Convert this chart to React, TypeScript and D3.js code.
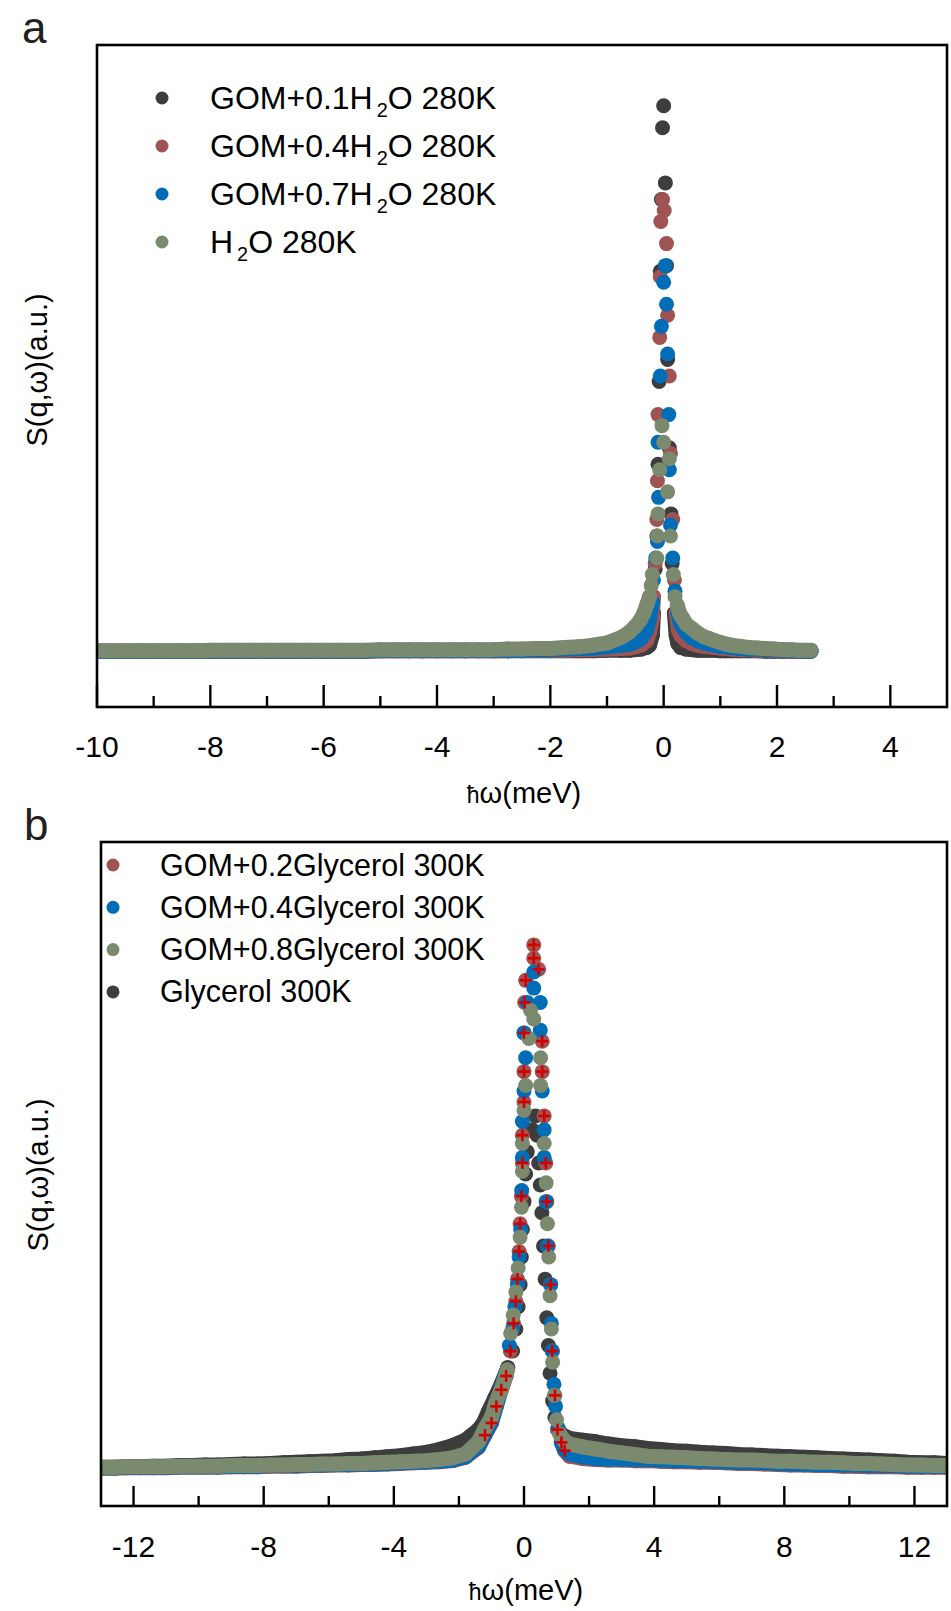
import React from 'react';
import * as d3 from 'd3';

type Pt = [number, number];

const FONT = '"Liberation Sans", Arial, Helvetica, sans-serif';

const COLORS = {
  black: '#3d3d3d',
  red: '#a05353',
  blue: '#006db6',
  green: '#7b8a6e',
  errRed: '#d40000',
};

// ---------------- panel a : GOM + H2O, 280K ----------------
const aMajorTicks = [-10, -8, -6, -4, -2, 0, 2, 4];
const aMinorTicks = [-9, -7, -5, -3, -1, 1, 3];
const aLegend = [
  ['GOM+0.1H', '2', 'O 280K'],
  ['GOM+0.4H', '2', 'O 280K'],
  ['GOM+0.7H', '2', 'O 280K'],
  ['H', '2', 'O 280K'],
];

const aWingLeftX = [
  -10, -9.75, -9.5, -9.25, -9, -8.75, -8.5, -8.25, -8, -7.75, -7.5, -7.25, -7, -6.75, -6.5, -6.25,
  -6, -5.75, -5.5, -5.25, -5, -4.75, -4.5, -4.25, -4, -3.75, -3.5, -3.25, -3, -2.75, -2.5, -2.25,
  -2, -1.75, -1.5, -1.25, -1, -0.75,
];
const aWingRightX = [0.7, 0.8, 0.9, 1.0, 1.1, 1.2, 1.35, 1.5, 1.65, 1.8, 1.95, 2.1, 2.25, 2.4, 2.5, 2.6];

const aBlackLeft = [
  0.001, 0.001, 0.001, 0.001, 0.001, 0.001, 0.001, 0.001, 0.001, 0.001, 0.001, 0.001, 0.001, 0.001, 0.001, 0.001,
  0.001, 0.001, 0.001, 0.001, 0.002, 0.002, 0.002, 0.002, 0.002, 0.002, 0.002, 0.002, 0.002, 0.002, 0.002, 0.002,
  0.002, 0.002, 0.002, 0.002, 0.003, 0.003,
];
const aBlackPeak: Pt[] = [
  [-0.6, 0.003], [-0.5, 0.004], [-0.4, 0.005], [-0.3, 0.008], [-0.25, 0.012], [-0.2, 0.03], [-0.18, 0.07],
  [-0.15, 0.15], [-0.12, 0.21], [-0.1, 0.34], [-0.08, 0.49], [-0.06, 0.69], [-0.04, 0.82], [-0.02, 0.95],
  [0, 0.99], [0.03, 0.85], [0.05, 0.7], [0.07, 0.53], [0.1, 0.37], [0.13, 0.25], [0.15, 0.16], [0.19, 0.07],
  [0.22, 0.03], [0.25, 0.015], [0.3, 0.008], [0.4, 0.005], [0.5, 0.004], [0.6, 0.003],
];
const aBlackRight = [0.003, 0.003, 0.003, 0.002, 0.002, 0.002, 0.002, 0.002, 0.002, 0.001, 0.001, 0.001, 0.001, 0.001, 0.001, 0.001];

const aRedLeft = [
  0.001, 0.001, 0.001, 0.001, 0.001, 0.001, 0.001, 0.001, 0.002, 0.002, 0.002, 0.002, 0.002, 0.002, 0.002, 0.002,
  0.002, 0.002, 0.002, 0.002, 0.002, 0.002, 0.002, 0.002, 0.002, 0.002, 0.002, 0.002, 0.002, 0.002, 0.003, 0.003,
  0.003, 0.003, 0.004, 0.004, 0.005, 0.006,
];
const aRedPeak: Pt[] = [
  [-0.6, 0.007], [-0.5, 0.009], [-0.4, 0.012], [-0.3, 0.02], [-0.25, 0.035], [-0.2, 0.06], [-0.18, 0.1],
  [-0.15, 0.16], [-0.12, 0.24], [-0.11, 0.31], [-0.1, 0.43], [-0.07, 0.57], [-0.06, 0.68], [-0.05, 0.78],
  [-0.02, 0.82], [0.01, 0.8], [0.05, 0.74], [0.07, 0.61], [0.1, 0.5], [0.12, 0.36], [0.16, 0.24], [0.19, 0.13],
  [0.22, 0.07], [0.26, 0.04], [0.3, 0.03], [0.4, 0.02], [0.5, 0.015], [0.6, 0.012],
];
const aRedRight = [0.01, 0.009, 0.008, 0.007, 0.006, 0.005, 0.004, 0.004, 0.003, 0.003, 0.003, 0.002, 0.002, 0.002, 0.002, 0.002];

const aBlueLeft = [
  0.001, 0.001, 0.001, 0.001, 0.001, 0.001, 0.001, 0.001, 0.002, 0.002, 0.002, 0.002, 0.002, 0.002, 0.002, 0.002,
  0.002, 0.002, 0.002, 0.002, 0.003, 0.003, 0.003, 0.003, 0.003, 0.003, 0.003, 0.003, 0.003, 0.003, 0.003, 0.004,
  0.004, 0.005, 0.006, 0.007, 0.009, 0.012,
];
const aBluePeak: Pt[] = [
  [-0.6, 0.014], [-0.5, 0.018], [-0.4, 0.024], [-0.3, 0.04], [-0.25, 0.06], [-0.2, 0.09], [-0.18, 0.13],
  [-0.14, 0.17], [-0.11, 0.2], [-0.09, 0.28], [-0.1, 0.38], [-0.06, 0.5], [-0.04, 0.59], [0, 0.67],
  [0.03, 0.7], [0.05, 0.63], [0.07, 0.54], [0.09, 0.43], [0.1, 0.33], [0.12, 0.23], [0.16, 0.17], [0.2, 0.11],
  [0.25, 0.07], [0.3, 0.05], [0.4, 0.035], [0.5, 0.026], [0.6, 0.02],
];
const aBlueRight = [0.017, 0.014, 0.012, 0.01, 0.009, 0.008, 0.006, 0.005, 0.005, 0.004, 0.004, 0.003, 0.003, 0.002, 0.002, 0.002];

const aGreenLeft = [
  0.002, 0.002, 0.002, 0.002, 0.002, 0.002, 0.002, 0.002, 0.003, 0.003, 0.003, 0.003, 0.003, 0.003, 0.003, 0.003,
  0.003, 0.003, 0.003, 0.003, 0.004, 0.004, 0.004, 0.004, 0.004, 0.004, 0.004, 0.004, 0.004, 0.005, 0.005, 0.006,
  0.006, 0.008, 0.009, 0.012, 0.016, 0.026,
];
const aGreenPeak: Pt[] = [
  [-0.6, 0.036], [-0.5, 0.046], [-0.41, 0.058], [-0.35, 0.07], [-0.29, 0.087], [-0.25, 0.1], [-0.22, 0.12],
  [-0.2, 0.14], [-0.12, 0.17], [-0.11, 0.21], [-0.1, 0.25], [-0.07, 0.33], [-0.03, 0.41], [0, 0.38],
  [0.1, 0.35], [0.07, 0.29], [0.12, 0.21], [0.17, 0.14], [0.2, 0.1], [0.24, 0.085], [0.28, 0.07],
  [0.34, 0.06], [0.4, 0.05], [0.5, 0.042], [0.6, 0.034],
];
const aGreenRight = [0.028, 0.024, 0.02, 0.017, 0.014, 0.012, 0.01, 0.008, 0.007, 0.006, 0.005, 0.004, 0.004, 0.003, 0.003, 0.003];

// ---------------- panel b : GOM + glycerol, 300K ----------------
const bMajorTicks = [-12, -8, -4, 0, 4, 8, 12];
const bMinorTicks = [-10, -6, -2, 2, 6, 10];
const bLegend = [
  ['GOM+0.2Glycerol 300K'],
  ['GOM+0.4Glycerol 300K'],
  ['GOM+0.8Glycerol 300K'],
  ['Glycerol 300K'],
];

const bWingLeftX = [
  -13, -12.6, -12.2, -11.8, -11.4, -11, -10.6, -10.2, -9.8, -9.4, -9, -8.6, -8.2, -7.8, -7.4,
  -7, -6.6, -6.2, -5.8, -5.4, -5, -4.6, -4.2, -3.8, -3.4, -3, -2.6, -2.2, -1.8, -1.4,
];
const bWingRightX = [
  1.4, 1.8, 2.2, 2.6, 3, 3.4, 3.8, 4.2, 4.6, 5, 5.4, 5.8, 6.2, 6.6, 7,
  7.4, 7.8, 8.2, 8.6, 9, 9.4, 9.8, 10.2, 10.6, 11, 11.4, 11.8, 12.2, 12.6, 13,
];

const bBlackLeft = [
  0, 0, 0.001, 0.001, 0.002, 0.002, 0.003, 0.003, 0.004, 0.004, 0.005, 0.006, 0.006, 0.007, 0.008,
  0.009, 0.01, 0.011, 0.012, 0.014, 0.015, 0.017, 0.019, 0.021, 0.024, 0.027, 0.032, 0.039, 0.049, 0.068,
];
const bBlackPeak: Pt[] = [
  [-1.25, 0.08], [-1.1, 0.1], [-0.9, 0.125], [-0.7, 0.15], [-0.5, 0.18], [-0.35, 0.21], [-0.25, 0.25],
  [-0.18, 0.29], [-0.12, 0.33], [-0.08, 0.38], [-0.05, 0.43], [0, 0.48], [0.05, 0.53], [0.1, 0.57],
  [0.25, 0.61], [0.35, 0.635], [0.4, 0.6], [0.45, 0.55], [0.5, 0.51], [0.55, 0.46], [0.6, 0.4],
  [0.65, 0.34], [0.7, 0.27], [0.75, 0.22], [0.8, 0.17], [0.88, 0.12], [0.95, 0.09], [1.05, 0.07], [1.2, 0.058],
];
const bBlackRight = [
  0.052, 0.049, 0.046, 0.042, 0.039, 0.037, 0.034, 0.032, 0.03, 0.029, 0.027, 0.026, 0.025, 0.023, 0.022,
  0.021, 0.02, 0.019, 0.018, 0.017, 0.016, 0.015, 0.014, 0.013, 0.012, 0.011, 0.009, 0.008, 0.008, 0.007,
];

const bRedLeft = [
  -0.002, -0.002, -0.001, -0.001, -0.001, -0.001, 0, 0, 0, 0, 0.001, 0.001, 0.001, 0.002, 0.002,
  0.002, 0.003, 0.003, 0.004, 0.004, 0.005, 0.005, 0.006, 0.007, 0.008, 0.009, 0.01, 0.012, 0.018, 0.036,
];
const bRedPeak: Pt[] = [
  [-1.2, 0.058], [-1.0, 0.08], [-0.85, 0.11], [-0.7, 0.14], [-0.55, 0.165], [-0.42, 0.21], [-0.32, 0.26],
  [-0.25, 0.3], [-0.2, 0.34], [-0.15, 0.39], [-0.12, 0.44], [-0.08, 0.49], [-0.05, 0.55], [-0.05, 0.6],
  [0, 0.66], [0, 0.715], [0, 0.785], [0.02, 0.84], [0.05, 0.88], [0.3, 0.944], [0.3, 0.92], [0.45, 0.9],
  [0.56, 0.77], [0.56, 0.715], [0.62, 0.635], [0.67, 0.55], [0.7, 0.48], [0.75, 0.4], [0.82, 0.33],
  [0.87, 0.21], [0.95, 0.13], [1.03, 0.068], [1.15, 0.045], [1.25, 0.03],
];
const bRedRight = [
  0.02, 0.016, 0.014, 0.013, 0.013, 0.012, 0.012, 0.011, 0.01, 0.01, 0.009, 0.009, 0.008, 0.007, 0.007,
  0.006, 0.005, 0.004, 0.004, 0.003, 0.003, 0.002, 0.002, 0.001, 0.001, 0.001, 0, 0, 0, 0,
];

const bBlueLeft = [
  -0.001, -0.001, 0, 0, 0, 0, 0.001, 0.001, 0.001, 0.001, 0.002, 0.002, 0.002, 0.003, 0.003,
  0.003, 0.004, 0.004, 0.005, 0.005, 0.006, 0.006, 0.007, 0.008, 0.009, 0.01, 0.011, 0.013, 0.019, 0.038,
];
const bBluePeak: Pt[] = [
  [-1.2, 0.06], [-1.0, 0.082], [-0.85, 0.112], [-0.7, 0.143], [-0.55, 0.17], [-0.45, 0.22], [-0.35, 0.25],
  [-0.28, 0.29], [-0.2, 0.33], [-0.15, 0.38], [-0.1, 0.43], [-0.07, 0.5], [-0.05, 0.56], [-0.05, 0.625],
  [0, 0.68], [0.05, 0.74], [0, 0.785], [0.1, 0.84], [0.3, 0.895], [0.3, 0.866], [0.5, 0.84], [0.5, 0.79],
  [0.56, 0.68], [0.62, 0.61], [0.62, 0.56], [0.68, 0.48], [0.72, 0.4], [0.82, 0.33], [0.84, 0.26],
  [0.87, 0.21], [0.92, 0.15], [0.97, 0.11], [1.05, 0.07], [1.15, 0.045], [1.25, 0.032],
];
const bBlueRight = [
  0.024, 0.019, 0.016, 0.015, 0.015, 0.014, 0.014, 0.013, 0.012, 0.012, 0.011, 0.011, 0.01, 0.009, 0.009,
  0.008, 0.007, 0.006, 0.006, 0.005, 0.005, 0.004, 0.004, 0.003, 0.003, 0.003, 0.002, 0.002, 0.002, 0.002,
];

const bGreenLeft = [
  0, 0, 0.001, 0.001, 0.001, 0.001, 0.002, 0.002, 0.002, 0.002, 0.003, 0.003, 0.003, 0.004, 0.004,
  0.005, 0.005, 0.006, 0.006, 0.007, 0.007, 0.008, 0.009, 0.01, 0.011, 0.012, 0.014, 0.017, 0.024, 0.046,
];
const bGreenPeak: Pt[] = [
  [-1.2, 0.07], [-1.0, 0.09], [-0.87, 0.116], [-0.67, 0.145], [-0.51, 0.176], [-0.41, 0.242],
  [-0.33, 0.275], [-0.25, 0.317], [-0.18, 0.36], [-0.12, 0.416], [-0.08, 0.47], [-0.05, 0.535],
  [-0.05, 0.585], [0, 0.645], [0.05, 0.69], [0.15, 0.775], [0.2, 0.826], [0.3, 0.81], [0.51, 0.74],
  [0.51, 0.69], [0.62, 0.585], [0.68, 0.514], [0.72, 0.44], [0.76, 0.38], [0.8, 0.31], [0.84, 0.25],
  [0.88, 0.19], [0.93, 0.13], [1.0, 0.086], [1.1, 0.06], [1.25, 0.047],
];
const bGreenRight = [
  0.042, 0.037, 0.033, 0.029, 0.026, 0.023, 0.02, 0.019, 0.018, 0.017, 0.016, 0.015, 0.014, 0.013, 0.013,
  0.012, 0.011, 0.011, 0.01, 0.009, 0.009, 0.008, 0.007, 0.007, 0.006, 0.005, 0.004, 0.004, 0.003, 0.003,
];

const zipXY = (xs: number[], ys: number[]): Pt[] => xs.map((x, i) => [x, ys[i]] as Pt);

interface Series {
  color: string;
  wings: Pt[][];
  points: Pt[];
  err?: Pt[];
}

// wings + low flank points are dense enough to merge into a solid band
const makeSeries = (
  color: string, lx: number[], ly: number[], peak: Pt[], rx: number[], ry: number[],
  lowLeft: number, lowRight: number, err = false,
): Series => {
  const left = zipXY(lx, ly);
  const right = zipXY(rx, ry);
  let i = 0;
  while (i < peak.length && peak[i][1] < lowLeft) i++;
  let j = peak.length;
  while (j > i && peak[j - 1][1] < lowRight) j--;
  return {
    color,
    wings: [[...left, ...peak.slice(0, i)], [...peak.slice(j), ...right]],
    points: [...left, ...peak, ...right],
    err: err ? peak : undefined,
  };
};

interface PanelProps {
  id: string;
  letter: string;
  letterX: number;
  letterY: number;
  left: number;
  right: number;
  top: number;
  bottom: number;
  xDomain: [number, number];
  yDomain: [number, number];
  major: number[];
  minor: number[];
  majorLen: number;
  minorLen: number;
  tickLabelY: number;
  titleY: number;
  yLabelX: number;
  yLabelY: number;
  series: Series[];
  legend: string[][];
  legendColors: string[];
  legendDotX: number;
  legendTextX: number;
  legendTop: number;
  legendStep: number;
  legendSize: number;
}

const Panel: React.FC<PanelProps> = (p) => {
  const x = d3.scaleLinear().domain(p.xDomain).range([p.left, p.right]);
  const y = d3.scaleLinear().domain(p.yDomain).range([p.bottom, p.top]);
  const r = 7.5;
  const band = d3.line<Pt>().x((d) => x(d[0])).y((d) => y(d[1]));

  return (
    <g>
      <defs>
        <clipPath id={`clip-${p.id}`}>
          <rect x={p.left} y={p.top} width={p.right - p.left} height={p.bottom - p.top} />
        </clipPath>
      </defs>

      <text x={p.letterX} y={p.letterY} fontSize={44} fill="#231f20">{p.letter}</text>

      <g clipPath={`url(#clip-${p.id})`}>
        {p.series.map((s, si) => (
          <g key={si} fill={s.color}>
            {s.wings.map((w, wi) => (
              <path key={wi} d={band(w) || ''} fill="none" stroke={s.color} strokeWidth={2 * r}
                strokeLinecap="round" strokeLinejoin="round" />
            ))}
            {s.points.map((d, i) => (
              <circle key={i} cx={x(d[0])} cy={y(d[1])} r={r} />
            ))}
          </g>
        ))}
        {p.series.map((s, si) =>
          s.err ? (
            <g key={`e${si}`} stroke={COLORS.errRed} strokeWidth={2.6}>
              {s.err.map((d, i) => (
                <g key={i}>
                  <line x1={x(d[0]) - 6} x2={x(d[0]) + 6} y1={y(d[1])} y2={y(d[1])} />
                  <line x1={x(d[0])} x2={x(d[0])} y1={y(d[1]) - 6} y2={y(d[1]) + 6} />
                </g>
              ))}
            </g>
          ) : null,
        )}
      </g>

      <rect x={p.left} y={p.top} width={p.right - p.left} height={p.bottom - p.top}
        fill="none" stroke="#000" strokeWidth={2.6} />

      <g stroke="#000" strokeWidth={2.4}>
        {p.major.map((t) => (
          <line key={`M${t}`} x1={x(t)} x2={x(t)} y1={p.bottom} y2={p.bottom - p.majorLen} />
        ))}
        {p.minor.map((t) => (
          <line key={`m${t}`} x1={x(t)} x2={x(t)} y1={p.bottom} y2={p.bottom - p.minorLen} />
        ))}
      </g>
      <g fontSize={30} textAnchor="middle" fill="#000">
        {p.major.map((t) => (
          <text key={t} x={x(t)} y={p.tickLabelY}>{`${t}`}</text>
        ))}
      </g>

      <text x={(p.left + p.right) / 2 + 2} y={p.titleY} fontSize={29} textAnchor="middle">
        <tspan fontSize={23}>ħ</tspan>ω(meV)
      </text>
      <text transform={`translate(${p.yLabelX},${p.yLabelY}) rotate(-90)`} fontSize={29} textAnchor="middle">
        S(q,ω)(a.u.)
      </text>

      {p.legend.map((parts, i) => {
        const cy = p.legendTop + i * p.legendStep;
        const fs = p.legendSize;
        return (
          <g key={i}>
            <circle cx={p.legendDotX} cy={cy} r={6.5} fill={p.legendColors[i]} />
            <text x={p.legendTextX} y={cy + 10.5} fontSize={fs}>
              {parts.length === 3 ? (
                <>
                  <tspan>{parts[0]}</tspan>
                  <tspan dx={4} dy={8} fontSize={fs * 0.62}>{parts[1]}</tspan>
                  <tspan dy={-8}>{parts[2]}</tspan>
                </>
              ) : (
                parts[0]
              )}
            </text>
          </g>
        );
      })}
    </g>
  );
};

export default function App() {
  const aSeries: Series[] = [
    makeSeries(COLORS.black, aWingLeftX, aBlackLeft, aBlackPeak, aWingRightX, aBlackRight, 0.12, 0.1),
    makeSeries(COLORS.red, aWingLeftX, aRedLeft, aRedPeak, aWingRightX, aRedRight, 0.12, 0.1),
    makeSeries(COLORS.blue, aWingLeftX, aBlueLeft, aBluePeak, aWingRightX, aBlueRight, 0.12, 0.1),
    makeSeries(COLORS.green, aWingLeftX, aGreenLeft, aGreenPeak, aWingRightX, aGreenRight, 0.12, 0.1),
  ];
  const bSeries: Series[] = [
    makeSeries(COLORS.black, bWingLeftX, bBlackLeft, bBlackPeak, bWingRightX, bBlackRight, 0.2, 0.065),
    makeSeries(COLORS.red, bWingLeftX, bRedLeft, bRedPeak, bWingRightX, bRedRight, 0.2, 0.065, true),
    makeSeries(COLORS.blue, bWingLeftX, bBlueLeft, bBluePeak, bWingRightX, bBlueRight, 0.2, 0.065),
    makeSeries(COLORS.green, bWingLeftX, bGreenLeft, bGreenPeak, bWingRightX, bGreenRight, 0.2, 0.065),
  ];

  return (
    <div style={{ position: 'absolute', left: 0, top: 0, width: 951, height: 1611, background: '#fff' }}>
      <svg width={951} height={1611} style={{ display: 'block', fontFamily: FONT }}>
        <rect width={951} height={1611} fill="#fff" />
        <Panel
          id="a" letter="a" letterX={22} letterY={43}
          left={97} right={947} top={45} bottom={707}
          xDomain={[-10, 5]} yDomain={[-0.1, 1.1]}
          major={aMajorTicks} minor={aMinorTicks} majorLen={22} minorLen={11}
          tickLabelY={757} titleY={803} yLabelX={47} yLabelY={370}
          series={aSeries} legend={aLegend}
          legendColors={[COLORS.black, COLORS.red, COLORS.blue, COLORS.green]}
          legendDotX={162} legendTextX={210} legendTop={98} legendStep={48} legendSize={32}
        />
        <Panel
          id="b" letter="b" letterX={24} letterY={840}
          left={101} right={947} top={842} bottom={1506}
          xDomain={[-13, 13]} yDomain={[-0.07, 1.13]}
          major={bMajorTicks} minor={bMinorTicks} majorLen={20} minorLen={10}
          tickLabelY={1557} titleY={1600} yLabelX={48} yLabelY={1175}
          series={bSeries} legend={bLegend}
          legendColors={[COLORS.red, COLORS.blue, COLORS.green, COLORS.black]}
          legendDotX={113} legendTextX={160} legendTop={865} legendStep={42.3} legendSize={30.5}
        />
      </svg>
    </div>
  );
}
